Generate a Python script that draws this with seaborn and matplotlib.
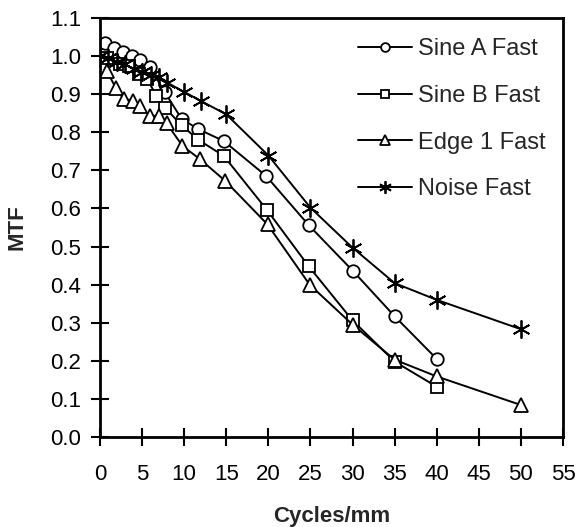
import numpy as np
import pandas as pd
import seaborn as sns
import matplotlib
matplotlib.use("Agg")
import matplotlib.pyplot as plt

# ---- data ----
series_names = ["Sine A Fast", "Sine B Fast", "Edge 1 Fast", "Noise Fast"]

sine_a_x = [0.6, 1.7, 2.7, 3.8, 4.8, 5.9, 7.7, 9.7, 11.7, 14.7, 19.7, 24.8, 30, 35, 40]
sine_a_y = [1.035, 1.02, 1.01, 1.0, 0.99, 0.972, 0.905, 0.835, 0.808, 0.777, 0.686, 0.556, 0.437, 0.317, 0.205]

sine_b_x = [0.8, 2.4, 3.4, 4.6, 5.6, 6.7, 7.7, 9.7, 11.7, 14.7, 19.8, 24.8, 30, 35, 40]
sine_b_y = [0.996, 0.979, 0.973, 0.953, 0.94, 0.896, 0.865, 0.818, 0.78, 0.738, 0.597, 0.448, 0.306, 0.198, 0.132]

edge_x = [0.8, 1.9, 2.8, 3.9, 4.8, 5.9, 7.0, 7.9, 9.8, 11.9, 14.9, 19.9, 24.9, 30, 35, 40, 50]
edge_y = [0.962, 0.915, 0.888, 0.883, 0.868, 0.843, 0.843, 0.824, 0.764, 0.729, 0.672, 0.558, 0.4, 0.295, 0.203, 0.159, 0.084]

noise_x = [0, 1, 2, 3, 4, 5, 6, 7, 8, 10, 12, 15, 20, 25, 30, 35, 40, 50]
noise_y = [1.0, 0.995, 0.985, 0.978, 0.966, 0.957, 0.95, 0.944, 0.93, 0.906, 0.882, 0.847, 0.739, 0.602, 0.497, 0.404, 0.36, 0.283]

x_ticks = list(range(0, 56, 5))
y_ticks = [round(0.1 * i, 1) for i in range(0, 12)]

df = pd.concat([
    pd.DataFrame({"x": sine_a_x, "y": sine_a_y, "series": series_names[0]}),
    pd.DataFrame({"x": sine_b_x, "y": sine_b_y, "series": series_names[1]}),
    pd.DataFrame({"x": edge_x, "y": edge_y, "series": series_names[2]}),
    pd.DataFrame({"x": noise_x, "y": noise_y, "series": series_names[3]}),
], ignore_index=True)

sns.set_style("ticks")
plt.rcParams["font.family"] = ["Liberation Sans", "DejaVu Sans"]

fig = plt.figure(figsize=(5.86, 5.27), dpi=100)
ax = fig.add_axes([100 / 586, 90 / 527, (563 - 100) / 586, (509 - 90) / 527])

markers = {"Sine A Fast": "o", "Sine B Fast": "s", "Edge 1 Fast": "^", "Noise Fast": (6, 2, 0)}
sizes = {"Sine A Fast": 9, "Sine B Fast": 9, "Edge 1 Fast": 10, "Noise Fast": 13}

for name in series_names:
    sub = df[df["series"] == name]
    sns.lineplot(data=sub, x="x", y="y", ax=ax, color="black", linewidth=1.4,
                 marker=markers[name], markersize=sizes[name],
                 markerfacecolor="white", markeredgecolor="black",
                 markeredgewidth=1.3, label=name, sort=False, estimator=None)

ax.set_xlim(0, 55)
ax.set_ylim(0, 1.1)
ax.set_xticks(x_ticks)
ax.set_yticks(y_ticks)
ax.set_xticklabels([str(t) for t in x_ticks])
ax.set_yticklabels([f"{t:.1f}" for t in y_ticks])
ax.tick_params(axis="both", direction="inout", length=13, width=1.5,
               labelsize=16, color="black", labelcolor="black")
ax.tick_params(axis="x", pad=13)
ax.tick_params(axis="y", pad=7)
for s in ax.spines.values():
    s.set_visible(True)
    s.set_linewidth(2)
    s.set_color("black")

ax.set_xlabel("Cycles/mm", fontsize=16, fontweight="bold", labelpad=15)
ax.set_ylabel("MTF", fontsize=16, fontweight="bold", labelpad=16)

leg = ax.legend(loc="upper left", bbox_to_anchor=(358 / 586, 1 - 38 / 527),
                bbox_transform=fig.transFigure, frameon=False, fontsize=17,
                handlelength=2.3, handletextpad=0.22, labelspacing=1.05,
                borderpad=0, borderaxespad=0, markerscale=0.7)

fig.savefig("out.png", dpi=100)
